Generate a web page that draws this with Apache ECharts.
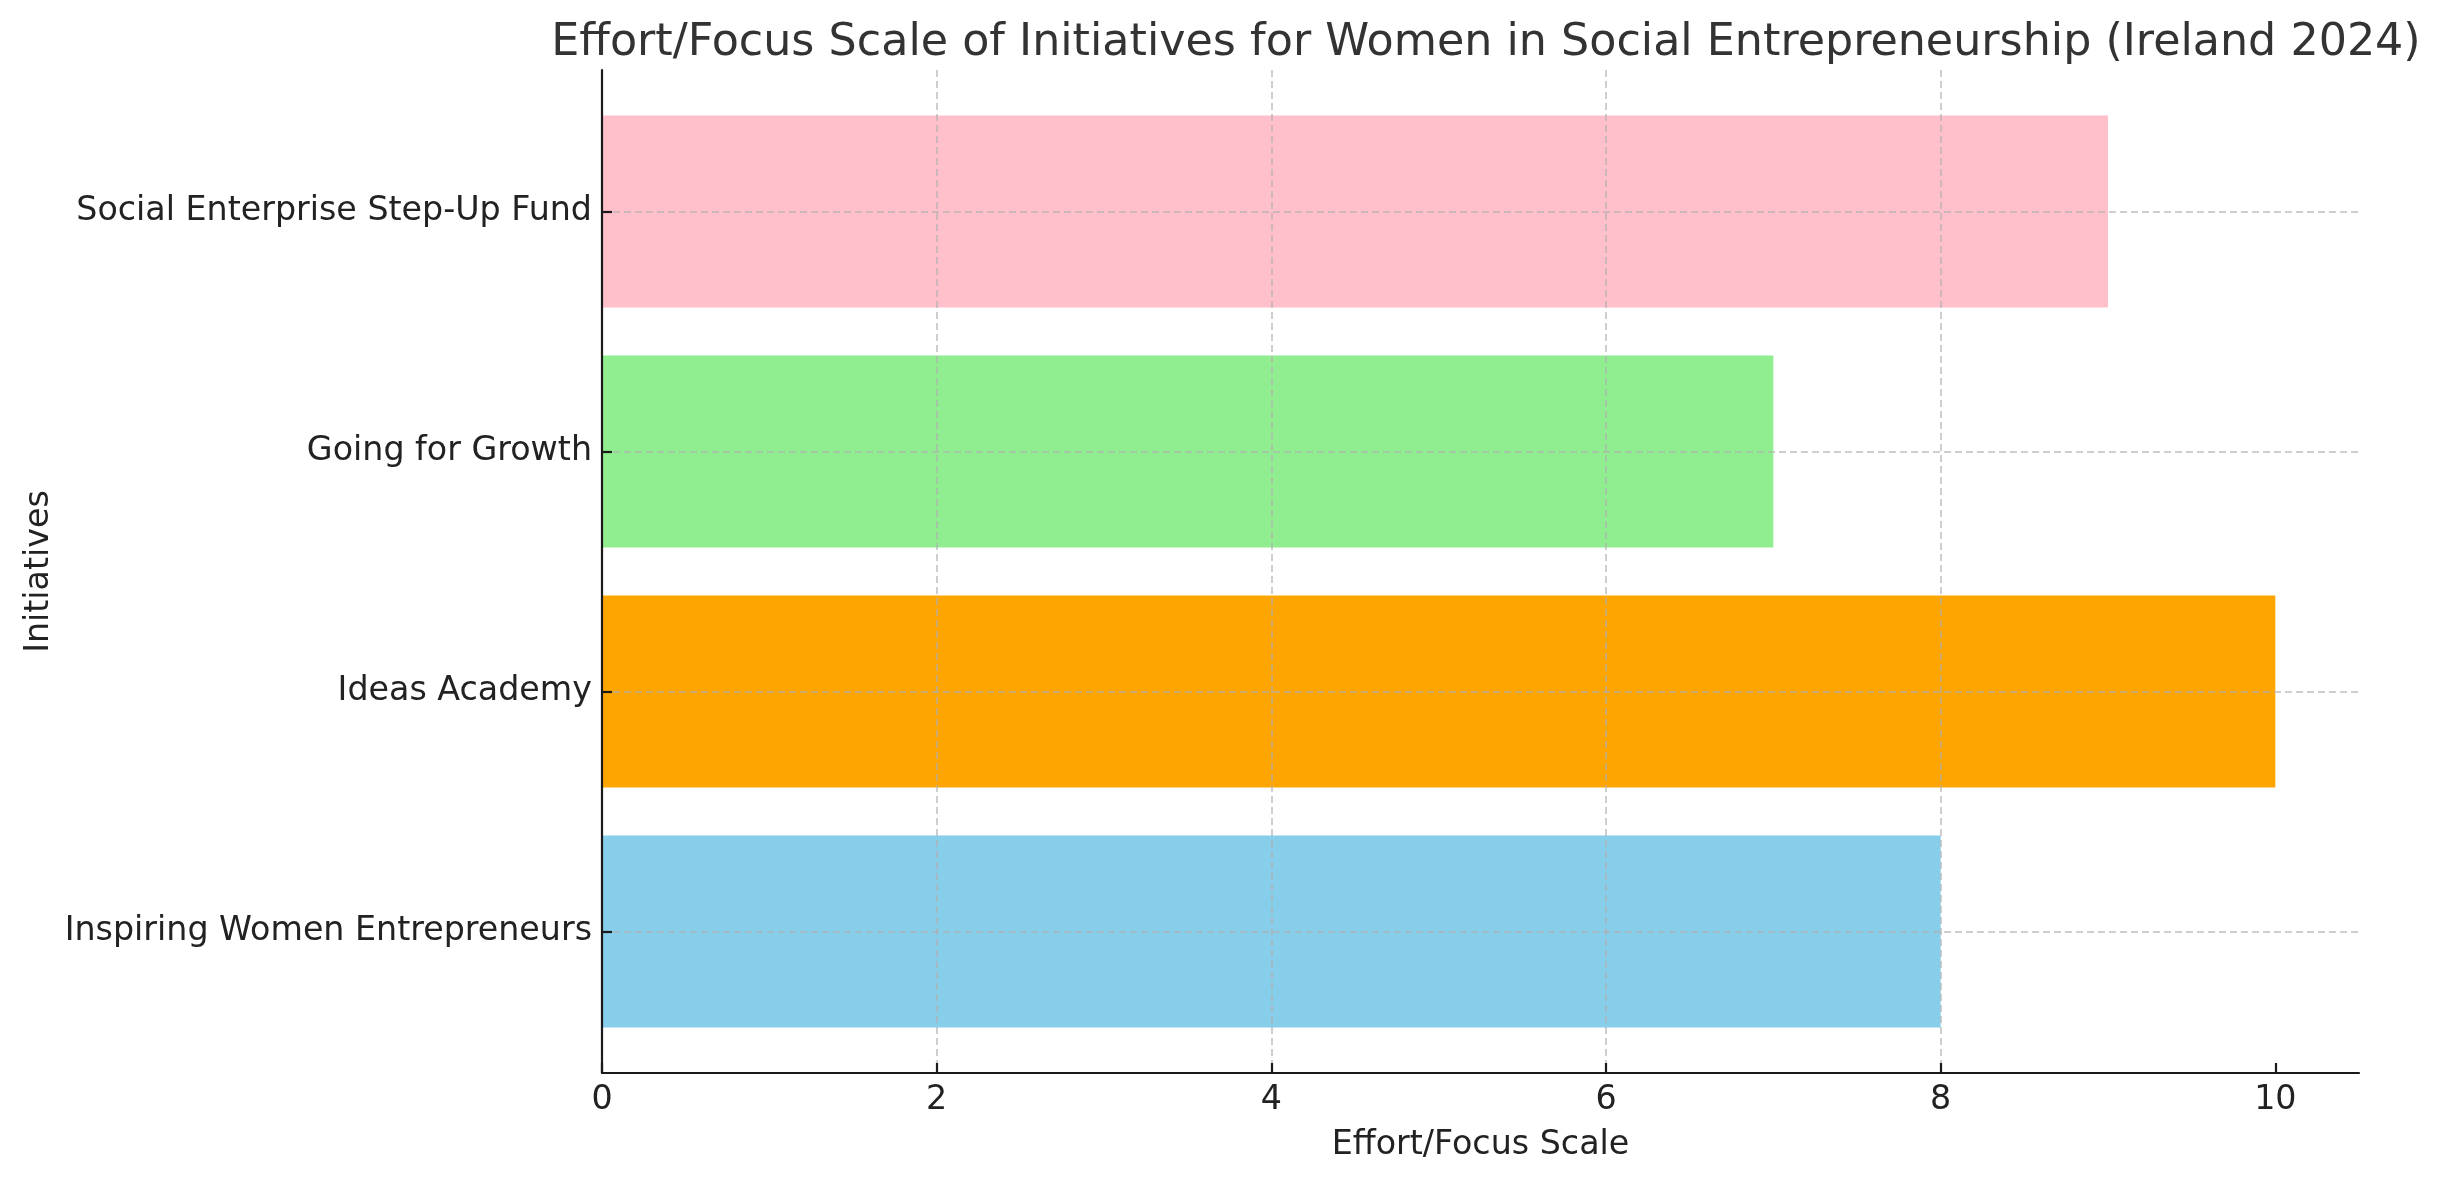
<!DOCTYPE html>
<html>
<head>
<meta charset="utf-8">
<script src="https://cdn.jsdelivr.net/npm/echarts@6/dist/echarts.min.js"></script>
<style>
html,body{margin:0;padding:0;background:#fff;}
#chart{width:2438px;height:1180px;}
</style>
</head>
<body>
<div id="chart"></div>
<script>
const categories = ["Inspiring Women Entrepreneurs", "Ideas Academy", "Going for Growth", "Social Enterprise Step-Up Fund"];
const values = [8, 10, 7, 9];
const barColors = ["#87CEEB", "#FFA500", "#90EE90", "#FFC0CB"];
const xTicks = [0, 2, 4, 6, 8, 10];
const titleText = "Effort/Focus Scale of Initiatives for Women in Social Entrepreneurship (Ireland 2024)";
const xName = "Effort/Focus Scale";
const yName = "Initiatives";

const FONT = "DejaVu Sans";
const plotLeft = 602, plotRight = 2438 - 2359, plotTop = 70, plotBottom = 1180 - 1073;
const inset = 21.6;      // matplotlib y margin beyond the band edges
const band = 240;        // px per category
const LBL = 33.3;
const GRID = 'rgba(176,176,176,0.62)';

const chart = echarts.init(document.getElementById('chart'), null, {renderer: 'canvas'});
chart.setOption({
  animation: false,
  backgroundColor: '#ffffff',
  title: {
    text: titleText,
    left: 1481, top: 16,
    textAlign: 'center',
    textStyle: {fontFamily: FONT, fontSize: 44.4, fontWeight: 'normal', color: '#333333'}
  },
  grid: [
    {left: plotLeft, right: plotRight, top: plotTop, bottom: plotBottom, containLabel: false},
    {left: plotLeft, right: plotRight, top: plotTop + inset, bottom: plotBottom + inset, containLabel: false},
    {left: plotLeft, right: plotRight, top: plotTop + inset + band / 2, bottom: plotBottom + inset + band / 2, containLabel: false}
  ],
  xAxis: [
    {
      gridIndex: 0, type: 'value', min: 0, max: 10.5, interval: 2, z: 5,
      name: xName, nameLocation: 'middle', nameGap: 56,
      nameTextStyle: {fontFamily: FONT, fontSize: LBL, color: '#222222'},
      axisLine: {show: true, lineStyle: {color: '#1a1a1a', width: 2.2}},
      axisTick: {show: true, inside: true, length: 10, customValues: xTicks, lineStyle: {color: '#1a1a1a', width: 2.2}},
      axisLabel: {show: true, margin: 11, fontFamily: FONT, fontSize: LBL, color: '#222222', customValues: xTicks,
        formatter: v => (xTicks.indexOf(v) >= 0 ? String(v) : '')},
      splitLine: {show: true, showMaxLine: false, lineStyle: {color: GRID, width: 2, type: [7, 4]}}
    },
    {gridIndex: 1, type: 'value', min: 0, max: 10.5, show: false},
    {gridIndex: 2, type: 'value', min: 0, max: 10.5, show: false}
  ],
  yAxis: [
    {
      gridIndex: 0, type: 'value', min: 0, max: 1, z: 5,
      name: yName, nameLocation: 'middle', nameGap: 546, nameRotate: 90,
      nameTextStyle: {fontFamily: FONT, fontSize: LBL, color: '#222222'},
      axisLine: {show: true, lineStyle: {color: '#1a1a1a', width: 2.2}},
      axisTick: {show: false}, axisLabel: {show: false}, splitLine: {show: false}
    },
    {
      gridIndex: 1, type: 'category', data: categories, z: 6,
      axisLine: {show: false},
      axisTick: {show: true, inside: true, alignWithLabel: true, length: 10, lineStyle: {color: '#1a1a1a', width: 2.2}},
      axisLabel: {show: true, margin: 10, fontFamily: FONT, fontSize: LBL, color: '#222222'},
      splitLine: {show: false}
    },
    {
      gridIndex: 2, type: 'category', data: categories, boundaryGap: false, z: 5,
      axisLine: {show: false}, axisTick: {show: false}, axisLabel: {show: false},
      splitLine: {show: true, interval: 0, lineStyle: {color: GRID, width: 2, type: [7, 4]}}
    }
  ],
  series: [{
    type: 'bar',
    xAxisIndex: 1, yAxisIndex: 1,
    data: values.map((v, i) => ({value: v, itemStyle: {color: barColors[i]}})),
    barWidth: '80%'
  }]
});
</script>
</body>
</html>
